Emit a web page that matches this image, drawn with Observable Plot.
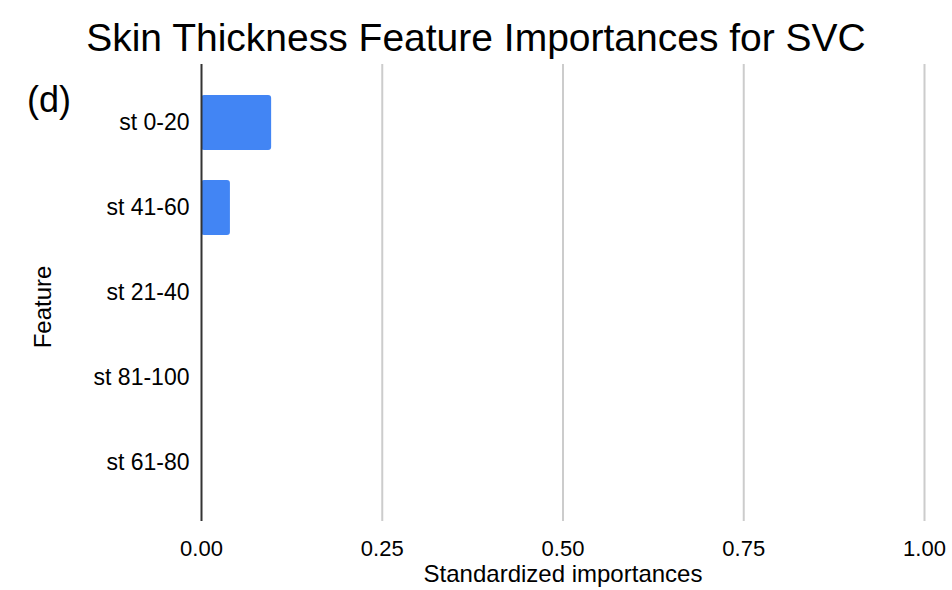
<!DOCTYPE html>
<html>
<head>
<meta charset="utf-8">
<script src="https://cdn.jsdelivr.net/npm/d3@7"></script>
<script src="https://cdn.jsdelivr.net/npm/@observablehq/plot@0.6"></script>
<style>
  html, body { margin: 0; padding: 0; background: #fff; }
  body { width: 952px; height: 590px; position: relative; font-family: "Liberation Sans", Arial, sans-serif; overflow: hidden; }
  #title { height: 60px; line-height: 76px; text-align: center; font-size: 39px; color: #000; white-space: nowrap; }
  #tag { position: absolute; left: 27px; top: 78px; font-size: 36px; line-height: 44px; color: #000; }
</style>
</head>
<body>
<div id="title">Skin Thickness Feature Importances for SVC</div>
<div id="chart"></div>
<div id="tag">(d)</div>
<script>
const features = ["st 0-20", "st 41-60", "st 21-40", "st 81-100", "st 61-80"];
const importances = [0.097, 0.040, 0, 0, 0];
const xTicks = [0, 0.25, 0.5, 0.75, 1];
const xTitle = "Standardized importances";
const yTitle = "Feature";

const data = features.map((f, i) => ({feature: f, value: importances[i]}));

const chart = Plot.plot({
  width: 952,
  height: 530,
  marginTop: 4,
  marginBottom: 69,
  marginLeft: 201,
  marginRight: 28,
  style: {fontFamily: "'Liberation Sans', Arial, sans-serif", fontSize: "22px", color: "#000", background: "#fff", overflow: "visible"},
  x: {domain: [0, 1], ticks: xTicks, tickFormat: d3.format(".2f")},
  y: {domain: features, padding: 0.356},
  marks: [
    Plot.ruleX(xTicks.filter(d => d > 0), {stroke: "#cccccc", strokeWidth: 2}),
    Plot.barX(data, {x: "value", y: "feature", fill: "#4285F4", rx: 3}),
    Plot.ruleX([0], {stroke: "#333333", strokeWidth: 2}),
    Plot.axisX({ticks: xTicks, tickFormat: d3.format(".2f"), tickSize: 0, tickPadding: 19, label: null, fontSize: 22, fill: "#000"}),
    Plot.axisY({tickSize: 0, tickPadding: 12, label: null, fontSize: 23, fill: "#000"}),
    Plot.text([xTitle], {text: d => d, frameAnchor: "bottom", lineAnchor: "bottom", textAnchor: "middle", dy: 60, fill: "#000", fontSize: 24}),
    Plot.text([yTitle], {text: d => d, frameAnchor: "left", textAnchor: "middle", lineAnchor: "middle", dx: -158, dy: 14, rotate: -90, fill: "#000", fontSize: 24})
  ]
});
document.getElementById("chart").appendChild(chart);
</script>
</body>
</html>
